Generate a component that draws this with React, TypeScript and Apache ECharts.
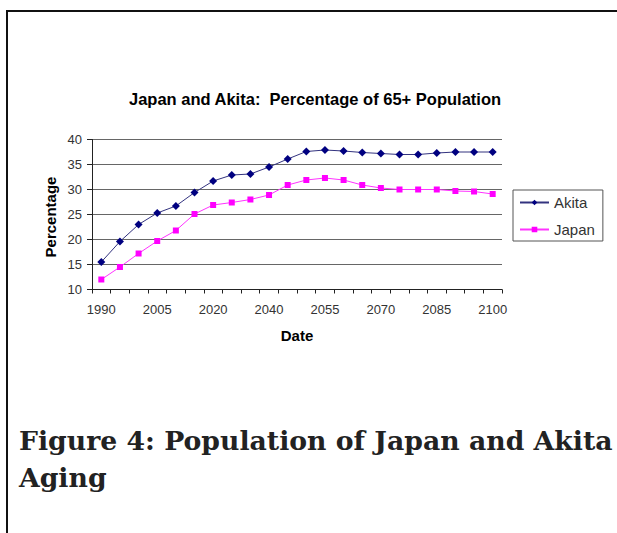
import React, { useEffect, useRef } from "react";
import * as echarts from "echarts";

const categories = [
  "1990", "1995", "2000", "2005", "2010", "2015", "2020", "2025", "2030",
  "2040", "2045", "2050", "2055", "2060", "2065", "2070", "2075", "2080",
  "2085", "2090", "2095", "2100",
];
const akita = [
  15.5, 19.6, 23.0, 25.3, 26.7, 29.4, 31.7, 32.9, 33.1, 34.5, 36.1, 37.6,
  37.9, 37.7, 37.4, 37.2, 37.0, 37.0, 37.3, 37.5, 37.5, 37.5,
];
const japan = [
  12.0, 14.5, 17.2, 19.7, 21.8, 25.1, 26.9, 27.4, 28.0, 28.9, 30.9, 31.9,
  32.3, 31.9, 30.9, 30.3, 30.0, 30.0, 30.0, 29.7, 29.6, 29.1,
];
const yTicks = { min: 10, max: 40, interval: 5 };
const chartTitle = "Japan and Akita:  Percentage of 65+ Population";
const xName = "Date";
const yName = "Percentage";
const caption = "Figure 4: Population of Japan and Akita\nAging";

export default function App() {
  const ref = useRef<HTMLDivElement>(null);
  useEffect(() => {
    if (!ref.current) return;
    const chart = echarts.init(ref.current, null, { renderer: "svg" });
    const sans = "Liberation Sans, Arial, sans-serif";
    chart.setOption({
      animation: false,
      backgroundColor: "#ffffff",
      grid: {
        left: 92,
        top: 139.5,
        width: 410,
        height: 150,
        outerBoundsMode: "none",
        containLabel: false,
      },
      xAxis: {
        type: "category",
        data: categories,
        boundaryGap: true,
        axisLine: { lineStyle: { color: "#222", width: 1 } },
        axisTick: { show: true, interval: 0, length: 4, lineStyle: { color: "#222" } },
        axisLabel: {
          interval: 2,
          color: "#333",
          fontFamily: sans,
          fontSize: 13,
          margin: 13,
        },
        splitLine: { show: false },
      },
      yAxis: {
        type: "value",
        min: yTicks.min,
        max: yTicks.max,
        interval: yTicks.interval,
        axisLine: { show: true, lineStyle: { color: "#222", width: 1 } },
        axisTick: { show: true, length: 5, lineStyle: { color: "#222" } },
        axisLabel: { color: "#333", fontFamily: sans, fontSize: 13, margin: 10 },
        splitLine: { show: true, lineStyle: { color: "#666", width: 1.2 } },
      },
      legend: {
        orient: "vertical",
        left: 513,
        top: 190,
        padding: [5, 8, 4, 6],
        itemGap: 12,
        itemWidth: 29,
        itemHeight: 7,
        borderColor: "#555",
        borderWidth: 1,
        textStyle: { color: "#333", fontFamily: sans, fontSize: 15 },
        data: ["Akita", "Japan"],
      },
      series: [
        {
          name: "Akita",
          type: "line",
          data: akita,
          symbol: "diamond",
          symbolSize: 8,
          itemStyle: { color: "#000080" },
          lineStyle: { color: "#33337f", width: 1 },
        },
        {
          name: "Japan",
          type: "line",
          data: japan,
          symbol: "rect",
          symbolSize: 6,
          itemStyle: { color: "#ff00ff" },
          lineStyle: { color: "#ff33ff", width: 1 },
        },
      ],
      graphic: [
        {
          type: "line",
          shape: { x1: 6, y1: 11, x2: 617, y2: 11 },
          style: { stroke: "#111", lineWidth: 2 },
        },
        {
          type: "line",
          shape: { x1: 7, y1: 10, x2: 7, y2: 533 },
          style: { stroke: "#111", lineWidth: 2 },
        },
        {
          type: "text",
          x: 315,
          y: 99,
          style: {
            text: chartTitle,
            fill: "#000",
            font: "bold 16.5px Liberation Sans, Arial, sans-serif",
            align: "center",
            verticalAlign: "middle",
          },
        },
        {
          type: "text",
          x: 297,
          y: 335,
          style: {
            text: xName,
            fill: "#000",
            font: "bold 15px Liberation Sans, Arial, sans-serif",
            align: "center",
            verticalAlign: "middle",
          },
        },
        {
          type: "text",
          x: 50,
          y: 217,
          rotation: Math.PI / 2,
          style: {
            text: yName,
            fill: "#000",
            font: "bold 15px Liberation Sans, Arial, sans-serif",
            align: "center",
            verticalAlign: "middle",
          },
        },
        {
          type: "text",
          x: 19,
          y: 422,
          style: {
            text: caption,
            fill: "#222",
            font: "bold 26.7px 'DejaVu Serif', serif",
            lineHeight: 37,
            align: "left",
            verticalAlign: "top",
          },
        },
      ],
    });
    return () => chart.dispose();
  }, []);
  return (
    <div
      ref={ref}
      style={{ position: "fixed", left: 0, top: 0, width: 617, height: 533 }}
    />
  );
}
